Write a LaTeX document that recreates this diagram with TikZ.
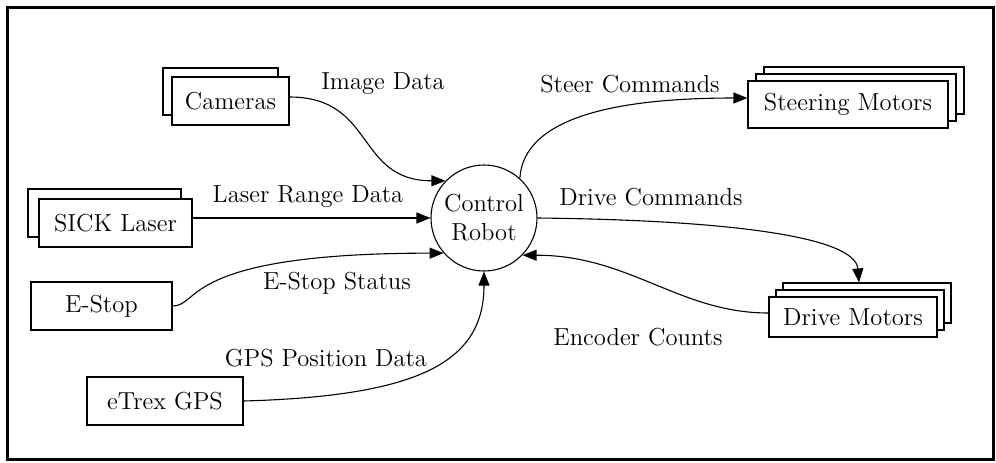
\documentclass[tikz,border=0pt]{standalone}
\usetikzlibrary{arrows.meta}
\begin{document}
\begin{tikzpicture}[x=0.5pt,y=-0.5pt,
  every node/.style={font=\rmfamily\fontsize{12.3}{14.5}\selectfont},
  box/.style={draw,fill=white,rectangle,inner sep=0pt,line width=0.55pt},
  proc/.style={draw,circle,inner sep=0pt,minimum size=53pt,line width=0.55pt,align=center},
  lbl/.style={inner sep=0pt},
  flow/.style={line width=0.55pt,-{Triangle[length=7pt,width=5.5pt]}}]
\useasboundingbox (0,0) rectangle (996,462);
\draw[line width=1.5pt] (7,7) rectangle (993,459);

% Cameras (stacked)
\node[box,minimum width=57.5pt,minimum height=23.5pt] (camb) at (220.5,91.5) {};
\node[box,minimum width=58.5pt,minimum height=24pt] (cam) at (230.5,101) {Cameras};
% SICK Laser (stacked)
\node[box,minimum width=76.5pt,minimum height=24pt] (sickb) at (104.5,213) {};
\node[box,minimum width=76.5pt,minimum height=24pt] (sick) at (115.5,223) {SICK Laser};
% E-Stop
\node[box,minimum width=70.5pt,minimum height=24pt] (estop) at (101.5,306) {E-Stop};
% eTrex GPS
\node[box,minimum width=78pt,minimum height=24pt] (gps) at (165,401) {eTrex GPS};
% Steering Motors (3 stacked)
\node[box,minimum width=100pt,minimum height=23.5pt] (steerc) at (864,90.5) {};
\node[box,minimum width=100pt,minimum height=23.5pt] (steerb) at (856,97.5) {};
\node[box,minimum width=100pt,minimum height=23.5pt] (steer) at (848,104.5) {Steering Motors};
% Drive Motors (3 stacked)
\node[box,minimum width=84pt,minimum height=20pt] (drvc) at (867,303) {};
\node[box,minimum width=84pt,minimum height=20pt] (drvb) at (860,310) {};
\node[box,minimum width=84pt,minimum height=20pt] (drv) at (853,317) {Drive Motors};
% Control Robot
\node[proc] (robot) at (484,218) {Control\\Robot};

% connectors
\draw[flow] ([yshift=2pt]cam.east) .. controls +(86,0) and +(-90,0) .. (robot.136);
\draw[flow] ([yshift=2.5pt]sick.east) -- (robot.west);
\draw[flow] (estop.east) .. controls +(28,0) and +(-262,0) .. (robot.221);
\draw[flow] (gps.east) .. controls +(177,-5) and +(0,90) .. (robot.south);
\draw[flow] (robot.48) .. controls +(4,-62) and +(-128,0) .. ([yshift=3.25pt]steer.west);
\draw[flow] (robot.east) .. controls +(183,2) and +(-4,-47) .. ([xshift=-4pt]drvc.north);
\draw[flow] ([yshift=2pt]drv.west) .. controls +(-89,0) and +(107,0) .. (robot.316);

% labels
\node[lbl] (limg) at (383,84) {Image Data};
\node[lbl] (lsteer) at (630,84) {Steer Commands};
\node[lbl] (llaser) at (308,197) {Laser Range Data};
\node[lbl] (ldrive) at (651,197) {Drive Commands};
\node[lbl] (lestop) at (337,283) {E-Stop Status};
\node[lbl] (lgps) at (326,358) {GPS Position Data};
\node[lbl] (lenc) at (638,337) {Encoder Counts};
\end{tikzpicture}
\end{document}
